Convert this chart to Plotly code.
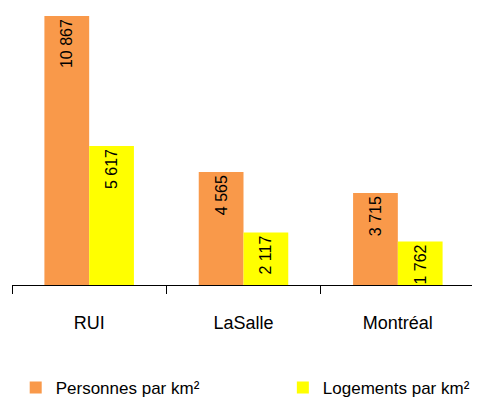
import plotly.graph_objects as go

zones = ['RUI', 'LaSalle', 'Montréal']
personnes = [10867, 4565, 3715]
logements = [5617, 2117, 1762]


def fmt(v):
    return f'{v:,}'.replace(',', ' ')


fig = go.Figure()
fig.add_bar(x=zones, y=personnes, name='Personnes par km²', marker_color='#F9994A',
            text=[fmt(v) for v in personnes], legend='legend')
fig.add_bar(x=zones, y=logements, name='Logements par km²', marker_color='#FFFF00',
            text=[fmt(v) for v in logements], legend='legend2')

fig.update_traces(textposition='inside', insidetextanchor='end', textangle=-90,
                  textfont=dict(family='Liberation Sans', size=16, color='#000000'),
                  constraintext='none', marker_line_width=0)

# page body has an 8px margin, so the figure is 8px smaller than the window
leg = dict(orientation='h', yanchor='middle', xanchor='left', y=-0.372,
           font=dict(size=17), bgcolor='rgba(0,0,0,0)')
fig.update_layout(
    width=472, height=394,
    margin=dict(l=4, r=5, t=0, b=117, autoexpand=False),
    plot_bgcolor='white', paper_bgcolor='white',
    barmode='group', bargap=0.42, bargroupgap=0,
    font=dict(family='Liberation Sans', color='#000000'),
    showlegend=True,
    legend=dict(leg, x=0.008),
    legend2=dict(leg, x=0.585),
)
fig.update_xaxes(showline=True, linecolor='#000000', linewidth=1, ticks='outside',
                 tickson='boundaries', ticklen=8, tickcolor='#000000', automargin=False,
                 tickfont=dict(size=18), ticklabelstandoff=21, showgrid=False)
fig.update_yaxes(visible=False, range=[0, 11192], showgrid=False, automargin=False)

fig.write_html("out.html")
